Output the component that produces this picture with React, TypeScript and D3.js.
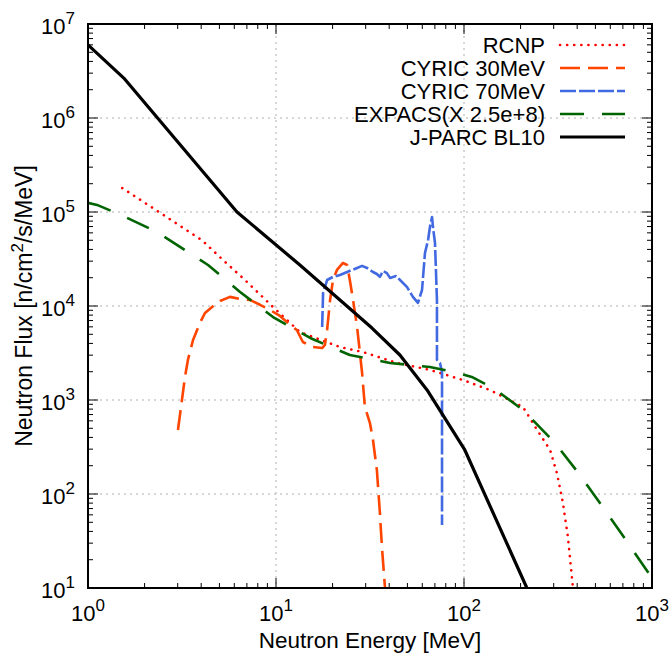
import { useMemo } from 'react'
import * as d3 from 'd3'

const WIDTH = 671
const HEIGHT = 662
const MARGIN = { top: 24, right: 19, bottom: 74, left: 88 }

// [energy MeV, flux n/cm2/s/MeV]
const rcnp: [number, number][] = [
  [1.52, 1.8e5], [2.48, 9.5e4], [4.04, 5.0e4], [5.23, 3.08e4], [6.84, 1.89e4],
  [9.64, 9.75e3], [13.4, 5.28e3], [21.9, 3.66e3], [29.0, 3.24e3], [44.0, 2.48e3],
  [65.9, 2.09e3], [98.8, 1.63e3], [137, 1.28e3], [206, 843], [245, 480],
  [287, 294], [312, 167], [336, 80], [357, 35], [380, 10], [390, 5]
]

const cyric30: [number, number][] = [
  [3.01, 480], [3.16, 1000], [3.28, 1760], [3.4, 2670], [3.62, 4350], [3.94, 6600],
  [4.19, 8430], [4.57, 9760], [5.04, 1.13e4], [5.69, 1.25e4], [6.44, 1.19e4],
  [7.27, 1.16e4], [8.22, 1.03e4], [9.29, 9070], [10.5, 7830], [11.9, 6280],
  [12.9, 5560], [13.9, 4140], [15.7, 3660], [17.6, 3570], [18.2, 3850],
  [18.7, 5560], [19.4, 1.16e4], [20.1, 1.89e4], [21.1, 2.42e4], [22.7, 2.87e4],
  [23.9, 2.73e4], [24.7, 1.89e4], [25.7, 1.16e4], [27.0, 5980], [28.7, 1940],
  [29.7, 843], [31.6, 569], [32.8, 375], [34.4, 180], [35.7, 62.8], [36.6, 27.3],
  [38.0, 10], [38.5, 5]
]

const cyric70: [number, number][] = [
  [17.6, 5980], [17.8, 1.37e4], [18.7, 1.89e4], [20.1, 2.04e4], [21.9, 2.14e4],
  [23.9, 2.3e4], [25.4, 2.42e4], [27.0, 2.54e4], [28.7, 2.67e4], [30.5, 2.54e4],
  [32.8, 2.3e4], [34.4, 2.19e4], [35.7, 2.04e4], [37.1, 2.36e4], [38.9, 2.24e4],
  [40.4, 1.99e4], [43.5, 2.08e4], [45.7, 1.89e4], [49.8, 1.59e4], [53.5, 1.25e4],
  [56.9, 1.08e4], [59.8, 1.48e4], [62.0, 3.66e4], [64.4, 5.04e4], [65.9, 6.92e4],
  [67.6, 8.85e4], [68.4, 6.92e4], [70.1, 4.68e4], [71.8, 1.16e4], [71.8, 2670],
  [74.5, 2480], [76.4, 1990], [76.4, 46.8]
]

const expacs: [number, number][] = [
  [1.0, 1.25e5], [1.117, 1.19e5], [1.5, 9.3e4], [2.33, 6.12e4], [4.35, 2.73e4],
  [6.44, 1.41e4], [9.64, 7630], [15.2, 4570], [24.7, 3010], [40.4, 2480],
  [65.9, 2240], [88.5, 1990], [110, 1760], [143, 1340], [206, 783], [305, 349],
  [414, 159], [562, 67.6], [745, 30.1], [1000, 12.8]
]

const jparc: [number, number][] = [
  [1.0, 6.0e6], [1.55, 2.66e6], [6.2, 1.0e5], [13.4, 2.73e4], [32.4, 5830],
  [45.6, 3010], [63.6, 1280], [101, 294], [216, 10], [240, 6]
]

const series = [
  { name: 'RCNP', data: rcnp, color: '#ff0000', width: 2.6, dash: '0.1,7', cap: 'round' },
  { name: 'CYRIC 30MeV', data: cyric30, color: '#ff4500', width: 2.6, dash: '20,8', cap: 'butt' },
  { name: 'CYRIC 70MeV', data: cyric70, color: '#4169e1', width: 2.6, dash: '16,3', cap: 'butt' },
  { name: 'EXPACS(X 2.5e+8)', data: expacs, color: '#006400', width: 2.6, dash: '24,18', cap: 'butt' },
  { name: 'J-PARC BL10', data: jparc, color: '#000000', width: 3.2, dash: 'none', cap: 'butt' }
]

const xDecades = [1, 10, 100, 1000]
const yDecades = [10, 100, 1e3, 1e4, 1e5, 1e6, 1e7]

const FONT = '"Liberation Sans", Arial, Helvetica, sans-serif'

export default function App() {
  const innerW = WIDTH - MARGIN.left - MARGIN.right
  const innerH = HEIGHT - MARGIN.top - MARGIN.bottom

  const x = d3.scaleLog().domain([1, 1000]).range([0, innerW])
  const y = d3.scaleLog().domain([10, 1e7]).range([innerH, 0])

  const line = d3.line<[number, number]>()
    .x(d => x(d[0]))
    .y(d => y(d[1]))

  const minorX = useMemo(() => {
    const out: number[] = []
    xDecades.slice(0, -1).forEach(d => { for (let k = 2; k < 10; k++) out.push(d * k) })
    return out
  }, [])
  const minorY = useMemo(() => {
    const out: number[] = []
    yDecades.slice(0, -1).forEach(d => { for (let k = 2; k < 10; k++) out.push(d * k) })
    return out
  }, [])

  const exp = (v: number) => Math.round(Math.log10(v))

  return (
    <svg width={WIDTH} height={HEIGHT} style={{ position: 'absolute', left: 0, top: 0, background: '#fff' }}
      fontFamily={FONT}>
      <defs>
        <clipPath id="plot">
          <rect x={0} y={0} width={innerW} height={innerH} />
        </clipPath>
      </defs>
      <g transform={`translate(${MARGIN.left}, ${MARGIN.top})`}>
        {/* grid */}
        {xDecades.slice(1, -1).map(t => (
          <line key={'gx' + t} x1={x(t)} x2={x(t)} y1={0} y2={innerH}
            stroke="#b0b0b0" strokeWidth={1} strokeDasharray="2,4" />
        ))}
        {yDecades.slice(1, -1).map(t => (
          <line key={'gy' + t} x1={0} x2={innerW} y1={y(t)} y2={y(t)}
            stroke="#b0b0b0" strokeWidth={1} strokeDasharray="2,4" />
        ))}

        {/* ticks on all four sides */}
        {xDecades.map(t => (
          <g key={'tx' + t}>
            <line x1={x(t)} x2={x(t)} y1={innerH} y2={innerH - 10} stroke="#000" strokeWidth={1} />
            <line x1={x(t)} x2={x(t)} y1={0} y2={10} stroke="#000" strokeWidth={1} />
          </g>
        ))}
        {minorX.map(t => (
          <g key={'mx' + t}>
            <line x1={x(t)} x2={x(t)} y1={innerH} y2={innerH - 5} stroke="#000" strokeWidth={1} />
            <line x1={x(t)} x2={x(t)} y1={0} y2={5} stroke="#000" strokeWidth={1} />
          </g>
        ))}
        {yDecades.map(t => (
          <g key={'ty' + t}>
            <line x1={0} x2={10} y1={y(t)} y2={y(t)} stroke="#000" strokeWidth={1} />
            <line x1={innerW} x2={innerW - 10} y1={y(t)} y2={y(t)} stroke="#000" strokeWidth={1} />
          </g>
        ))}
        {minorY.map(t => (
          <g key={'my' + t}>
            <line x1={0} x2={5} y1={y(t)} y2={y(t)} stroke="#000" strokeWidth={1} />
            <line x1={innerW} x2={innerW - 5} y1={y(t)} y2={y(t)} stroke="#000" strokeWidth={1} />
          </g>
        ))}

        {/* tick labels */}
        {xDecades.map(t => (
          <text key={'lx' + t} x={x(t)} y={innerH + 33} textAnchor="middle" fontSize={22} fill="#000">
            10<tspan fontSize={17} dy={-10}>{exp(t)}</tspan>
          </text>
        ))}
        {yDecades.map(t => (
          <text key={'ly' + t} x={-13} y={y(t) + 10} textAnchor="end" fontSize={22} fill="#000">
            10<tspan fontSize={17} dy={-10}>{exp(t)}</tspan>
          </text>
        ))}

        {/* data */}
        <g clipPath="url(#plot)">
          {series.map(s => (
            <path key={s.name} d={line(s.data) ?? ''} fill="none" stroke={s.color}
              strokeWidth={s.width} strokeDasharray={s.dash} strokeLinecap={s.cap as any}
              strokeLinejoin="round" />
          ))}
        </g>

        {/* frame */}
        <rect x={0} y={0} width={innerW} height={innerH} fill="none" stroke="#000" strokeWidth={2} />

        {/* legend */}
        {series.map((s, i) => {
          const ly = 21 + i * 23
          return (
            <g key={'leg' + s.name}>
              <text x={457} y={ly + 8} textAnchor="end" fontSize={22} fill="#000">{s.name}</text>
              <line x1={472} x2={537} y1={ly} y2={ly} stroke={s.color} strokeWidth={s.width}
                strokeDasharray={s.dash} strokeLinecap={s.cap as any} />
            </g>
          )
        })}

        {/* axis titles */}
        <text x={innerW / 2} y={innerH + 60} textAnchor="middle" fontSize={22.5} fill="#000">
          Neutron Energy [MeV]
        </text>
        <text transform={`translate(${-56}, ${innerH / 2}) rotate(-90)`} textAnchor="middle" fontSize={23} fill="#000">
          Neutron Flux [n/cm<tspan fontSize={17} dy={-9}>2</tspan><tspan dy={9}>/s/MeV]</tspan>
        </text>
      </g>
    </svg>
  )
}
